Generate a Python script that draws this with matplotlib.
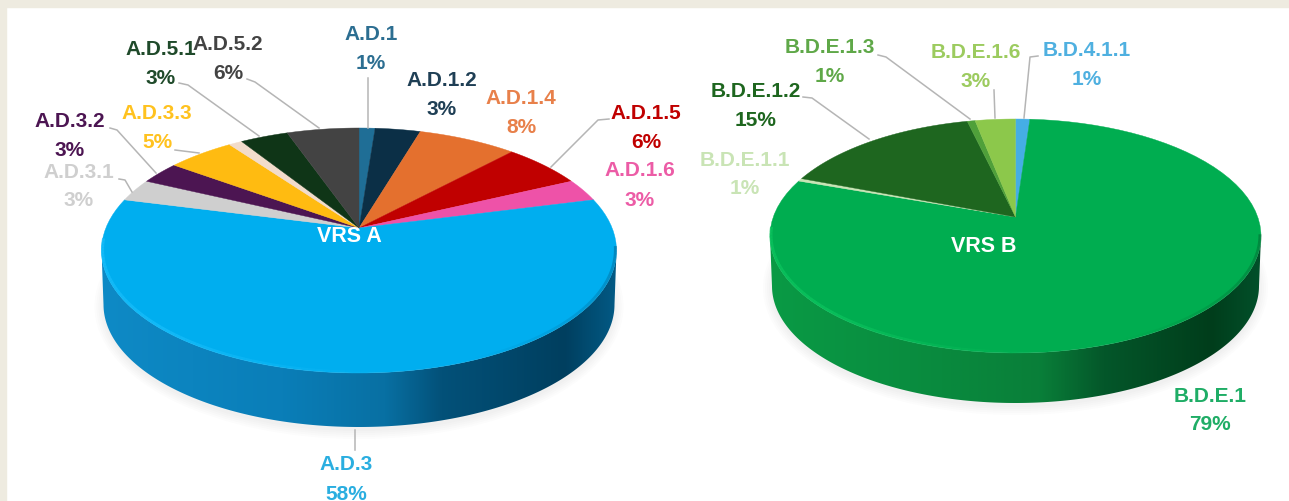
import numpy as np
import matplotlib
matplotlib.use("Agg")
import matplotlib.pyplot as plt
from matplotlib.colors import LinearSegmentedColormap
from matplotlib.patches import Ellipse, PathPatch, Rectangle
from matplotlib.path import Path

plt.rcParams["font.family"] = ["Liberation Sans", "DejaVu Sans"]

a_names = ["A.D.1", "A.D.1.2", "A.D.1.4", "A.D.1.5", "A.D.1.6", "A.D.3", "A.D.3.1",
           "A.D.3.2", "A.D.3.3", "", "A.D.5.1", "A.D.5.2"]
a_values = [1.2, 3.4, 7.4, 6, 3, 58, 3, 3, 5, 1, 3.6, 5.4]
a_percent = ["1%", "3%", "8%", "6%", "3%", "58%", "3%", "3%", "5%", "", "3%", "6%"]
b_names = ["B.D.4.1.1", "B.D.E.1", "B.D.E.1.1", "B.D.E.1.2", "B.D.E.1.3", "B.D.E.1.6"]
b_values = [1.1, 79.3, 0.4, 15.5, 0.6, 3.1]
b_percent = ["1%", "79%", "1%", "15%", "1%", "3%"]

# Slice colours
a_colors = ["#1F6E96", "#0B2F46", "#E4702E", "#C00000", "#EE52A8", "#00AEEF", "#CFCFCF",
            "#4C1552", "#FFBB11", "#F2DCCB", "#0F3517", "#434343"]
b_colors = ["#45AEE5", "#00AD50", "#C9E4B5", "#1E661F", "#4FA03A", "#8CC84B"]
a_text = ["#2C6E91", "#1F3F55", "#E8804A", "#C00000", "#EC5CA6", "#2AAEE0", "#CFCFCF",
          "#4C1552", "#FFC21F", "", "#1F4A2A", "#434343"]
b_text = ["#4FB0E0", "#1FAD66", "#C9E4B5", "#1E661F", "#5FA848", "#9CCB5F"]

# Label centres in pixels (name line, percent line is 29 px lower)
a_label_xy = [(371, 34), (442, 80), (521, 98), (646, 113), (640, 171), (346, 465), (79, 172),
              (70, 121), (157, 113), None, (161, 49), (228, 44)]
b_label_xy = [(1087, 50), (1210, 396), (745, 160), (756, 91), (830, 47), (976, 52)]

# Leader lines in pixels
a_leaders = [[(368, 78), (368, 128)], [(247, 79), (255, 82), (319, 128)],
             [(179, 83), (188, 85), (259, 136)], [(175, 150), (199, 153)],
             [(110, 128), (117, 130), (156, 173)], [(119, 179), (125, 180), (132, 192)],
             [(609, 119), (598, 120), (551, 167)], [(355, 430), (355, 450)]]
b_leaders = [[(878, 55), (886, 57), (970, 119)], [(994, 90), (995, 118)],
             [(1038, 56), (1030, 57), (1024, 118)], [(803, 97), (812, 98), (869, 139)]]

fig = plt.figure(figsize=(12.89, 5.01), dpi=100, facecolor="white")
ax = fig.add_axes([0, 0, 1, 1])
ax.set_xlim(0, 1289)
ax.set_ylim(501, 0)
ax.axis("off")

# Beige frame at the top and left
ax.add_patch(Rectangle((0, 0), 1289, 7, color="#EEEBE0", zorder=0))
ax.add_patch(Rectangle((0, 0), 6, 501, color="#EEEBE0", zorder=0))


def project(theta, cx, apex_y, top, bottom, half_w):
    # Perspective map of the unit circle onto the tilted pie top, theta clockwise from top
    c = (top + bottom - 2 * apex_y) / (bottom - top)
    a = top * (1 + c) - apex_y
    s = half_w * np.sqrt(1 - c ** 2)
    u, v = np.sin(theta), np.cos(theta)
    return cx + s * u / (1 + c * v), (apex_y + a * v) / (1 + c * v)


def draw_pie(values, colors, cx, apex_y, top, bottom, half_w, depth, wall_stops, rim, rim_dark):
    cy = (top + bottom) / 2
    h = (bottom - top) / 2

    # Soft shadow under the disc
    for grow in range(2, 12, 2):
        ax.add_patch(Ellipse((cx, cy + depth + 2), 2 * (half_w - 3 + grow), 2 * (h + grow),
                             color="#8A8A80", alpha=0.025, lw=0, zorder=1))

    # Side wall, a horizontal gradient clipped to the lower half of the disc
    t = np.linspace(0, np.pi, 200)
    low_x = cx - (half_w - 2) * np.cos(t)
    low_y = cy + depth + h * np.sin(t)
    up_x = cx + half_w * np.cos(t)
    up_y = cy + h * np.sin(t)
    pts = np.column_stack([np.r_[low_x, up_x], np.r_[low_y, up_y]])
    codes = [Path.MOVETO] + [Path.LINETO] * (len(pts) - 1)
    clip = PathPatch(Path(pts, codes), transform=ax.transData, fc="none", ec="none")
    ax.add_patch(clip)
    cmap = LinearSegmentedColormap.from_list("wall", wall_stops)
    img = ax.imshow(np.linspace(0, 1, 256).reshape(1, -1), cmap=cmap, aspect="auto",
                    extent=(cx - half_w, cx + half_w, cy + h + depth, cy - 5), zorder=2)
    img.set_clip_path(clip)
    ax.set_xlim(0, 1289)
    ax.set_ylim(501, 0)

    # Top face
    edges = np.cumsum([0] + values) / sum(values) * 2 * np.pi
    for i, color in enumerate(colors):
        th = np.linspace(edges[i], edges[i + 1], 80)
        x, y = project(th, cx, apex_y, top, bottom, half_w)
        ax.fill(np.r_[cx, x], np.r_[apex_y, y], color=color, lw=0.3, zorder=3)

    # Bevel along the front of the rim: bright on the left, fading, then darker on the right
    th = np.linspace(np.pi * 0.55, np.pi * 1.47, 120)
    x, y = project(th, cx, apex_y, top, bottom, half_w)
    x = cx + (x - cx) * 0.996
    y = y - 1
    for i in range(len(th) - 1):
        f = (th[i] - np.pi * 0.55) / (np.pi * 0.92)
        if f > 0.45:
            ax.plot(x[i:i + 2], y[i:i + 2], color=rim, lw=2.2, alpha=min(1, (f - 0.45) * 3.5) * 0.75,
                    zorder=4, solid_capstyle="butt")
        elif f < 0.35:
            ax.plot(x[i:i + 2], y[i:i + 2], color=rim_dark, lw=2.2, alpha=(0.35 - f) * 1.4,
                    zorder=4, solid_capstyle="butt")


draw_pie(a_values, a_colors, 359, 228, 128, 373, 257.5, 54,
         [(0, "#0E8AC6"), (0.35, "#0A7EB8"), (0.55, "#0870A3"), (0.66, "#035179"),
          (0.9, "#003F5F"), (1, "#035A85")], "#18BDFA", "#005F8C")
draw_pie(b_values, b_colors, 1015.5, 217, 119, 353, 245.5, 50,
         [(0, "#0A9A45"), (0.35, "#098A3E"), (0.55, "#097F39"), (0.68, "#04572A"),
          (0.9, "#003D1B"), (1, "#02502A")], "#0CC45E", "#00602C")


def draw_labels(names, percent, colors, label_xy, leaders):
    for name, pct, color, xy in zip(names, percent, colors, label_xy):
        if xy is None:
            continue
        ax.text(xy[0], xy[1], name, color=color, ha="center", va="center",
                fontsize=15, fontweight="bold", zorder=6)
        ax.text(xy[0], xy[1] + 29, pct, color=color, ha="center", va="center",
                fontsize=15, fontweight="bold", zorder=6)
    for line in leaders:
        xs, ys = zip(*line)
        ax.plot(xs, ys, color="#B5B5B5", lw=1.1, zorder=5)


draw_labels(a_names, a_percent, a_text, a_label_xy, a_leaders)
draw_labels(b_names, b_percent, b_text, b_label_xy, b_leaders)

ax.text(349, 236, "VRS A", color="white", ha="center", va="center", fontsize=15.5,
        fontweight="bold", zorder=6)
ax.text(984, 246, "VRS B", color="white", ha="center", va="center", fontsize=15.5,
        fontweight="bold", zorder=6)

fig.savefig("out.png", dpi=100)
